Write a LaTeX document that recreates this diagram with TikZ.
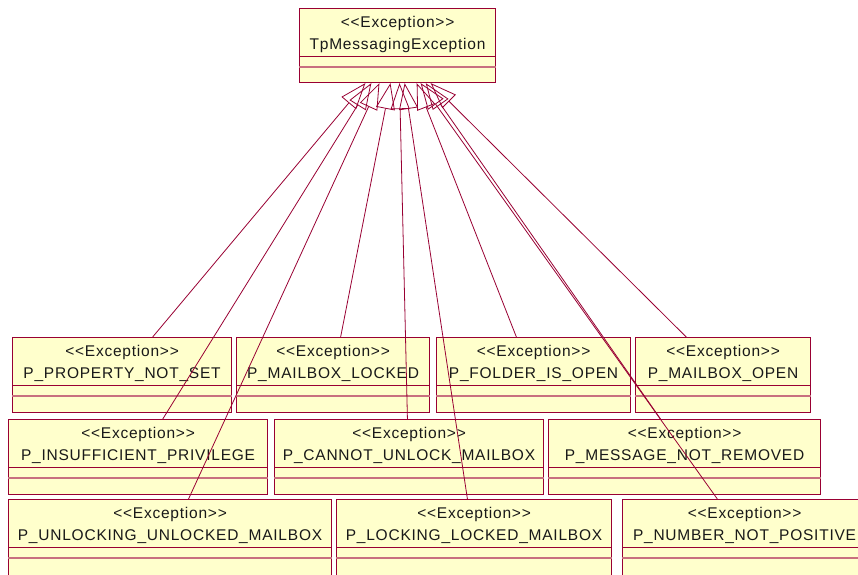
\documentclass[tikz,border=0pt]{standalone}
\usepackage{fontspec}
\setmainfont{Liberation Sans}[LetterSpace=5]
\usetikzlibrary{arrows.meta,calc}
\definecolor{umlred}{HTML}{990033}
\definecolor{umlred2}{HTML}{C8707F}
\definecolor{umlfill}{HTML}{FFFFCC}
\newcommand\umlcls[6]{%
  \node[umlbox, minimum width=#4pt, minimum height=#5pt] (#1) at (#2,#3) {};
  \draw[umlred, line width=0.9pt] ($(#1.north west)+(0,48)$) -- ($(#1.north east)+(0,48)$);
  \draw[umlred2, line width=1.2pt] ($(#1.north west)+(0,59)$) -- ($(#1.north east)+(0,59)$);
  \node[umltext] (#1s) at ($(#1.north)+(0,15.5)$) {<{}<Exception>{}>};
  \node[umltext] (#1n) at ($(#1.north)+(0,37.5)$) {#6};
}
\begin{document}
\begin{tikzpicture}[x=1pt,y=-1pt,
  umlbox/.style={draw=umlred, fill=umlfill, line width=1.1pt, rectangle, anchor=north west, inner sep=0pt},
  umltext/.style={font=\fontsize{15.5}{18}\selectfont, text=black!90, inner sep=0pt},
  gen/.style={draw=umlred, line width=0.8pt, -{Triangle[open, length=26pt, width=19pt, line join=miter]}}]
\useasboundingbox (0,0) rectangle (858,574);
\clip (0,0) rectangle (858,574);
\fill[white] (0,0) rectangle (858,574);
% parent
\umlcls{top}{299}{8}{196}{74}{TpMessagingException}
% row 1
\umlcls{b1}{12}{337}{219}{75}{P\_PROPERTY\_NOT\_SET}
\umlcls{b2}{236}{337}{193}{75}{P\_MAILBOX\_LOCKED}
\umlcls{b3}{436}{337}{194}{75}{P\_FOLDER\_IS\_OPEN}
\umlcls{b4}{635}{337}{175}{75}{P\_MAILBOX\_OPEN}
% row 2
\umlcls{b5}{8}{419}{259}{75}{P\_INSUFFICIENT\_PRIVILEGE}
\umlcls{b6}{274}{419}{269}{75}{P\_CANNOT\_UNLOCK\_MAILBOX}
\umlcls{b7}{548}{419}{272}{75}{P\_MESSAGE\_NOT\_REMOVED}
% row 3
\umlcls{b8}{8}{499}{323}{76}{P\_UNLOCKING\_UNLOCKED\_MAILBOX}
\umlcls{b9}{336}{499}{275}{76}{P\_LOCKING\_LOCKED\_MAILBOX}
\umlcls{b10}{622}{499}{244}{76}{P\_NUMBER\_NOT\_POSITIVE}
% generalizations
\draw[gen] ($(b1.north west)!0.639!(b1.north east)$) -- ($(top.south west)!0.337!(top.south east)$);
\draw[gen] ($(b5.north west)!0.595!(b5.north east)$) -- ($(top.south west)!0.367!(top.south east)$);
\draw[gen] ($(b8.north west)!0.557!(b8.north east)$) -- ($(top.south west)!0.408!(top.south east)$);
\draw[gen] ($(b2.north west)!0.539!(b2.north east)$) -- ($(top.south west)!0.464!(top.south east)$);
\draw[gen] ($(b6.north west)!0.494!(b6.north east)$) -- ($(top.south west)!0.510!(top.south east)$);
\draw[gen] ($(b9.north west)!0.476!(b9.north east)$) -- ($(top.south west)!0.536!(top.south east)$);
\draw[gen] ($(b3.north west)!0.412!(b3.north east)$) -- ($(top.south west)!0.597!(top.south east)$);
\draw[gen] ($(b10.north west)!0.389!(b10.north east)$) -- ($(top.south west)!0.617!(top.south east)$);
\draw[gen] ($(b7.north west)!0.412!(b7.north east)$) -- ($(top.south west)!0.643!(top.south east)$);
\draw[gen] ($(b4.north west)!0.291!(b4.north east)$) -- ($(top.south west)!0.668!(top.south east)$);
\end{tikzpicture}
\end{document}
